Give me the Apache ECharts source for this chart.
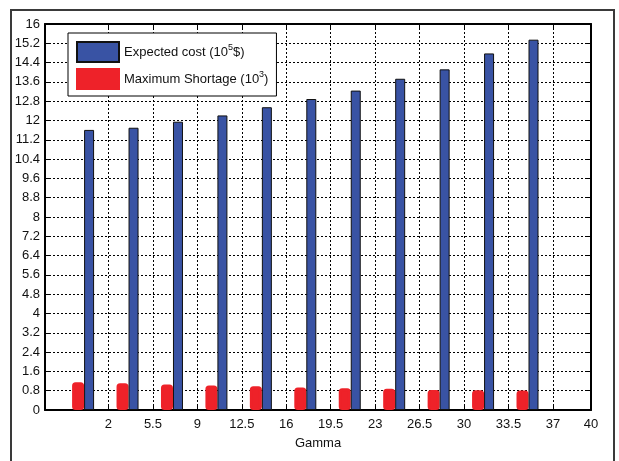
<!DOCTYPE html>
<html>
<head>
<meta charset="utf-8">
<script src="https://cdn.jsdelivr.net/npm/echarts@6/dist/echarts.min.js"></script>
<style>
  html, body { margin: 0; padding: 0; background: #fff; }
  #chart { width: 619px; height: 461px; }
</style>
</head>
<body>
<div id="chart"></div>
<script>
// Gamma positions of the bar groups and the labelled ticks
const gamma = [0, 3.5, 7, 10.5, 14, 17.5, 21, 24.5, 28, 31.5, 35];
const xTicks = [2, 5.5, 9, 12.5, 16, 19.5, 23, 26.5, 30, 33.5, 37, 40];

// Series values
const expectedCost = [11.61, 11.70, 11.95, 12.21, 12.55, 12.89, 13.24, 13.73, 14.12, 14.78, 15.35];
const maxShortage = [1.15, 1.11, 1.06, 1.02, 0.98, 0.93, 0.90, 0.88, 0.83, 0.82, 0.81];

const FONT = '"Liberation Sans", Arial, sans-serif';
const gridLine = { show: true, lineStyle: { color: '#000', width: 1, type: [2, 2] } };

const chart = echarts.init(document.getElementById('chart'));

const xBase = {
  type: 'value',
  min: -3,
  max: 40,
  axisLine: { show: true, onZero: false, lineStyle: { color: '#000', width: 2 } },
  axisTick: { show: true, inside: true, length: 5, customValues: xTicks, lineStyle: { color: '#000' } },
};

const yBase = {
  type: 'value',
  min: 0,
  max: 16,
  interval: 0.8,
  axisLine: { show: true, onZero: false, lineStyle: { color: '#000', width: 2 } },
  axisTick: { show: true, inside: true, length: 5, lineStyle: { color: '#000' } },
};

chart.setOption({
  animation: false,
  textStyle: { fontFamily: FONT },
  graphic: [{
    type: 'rect',
    z: -10,
    shape: { x: 11, y: 10, width: 603, height: 480 },
    style: { fill: 'none', stroke: '#3a3a3a', lineWidth: 2 },
  }],
  grid: { left: 45, right: 28, top: 24, bottom: 51, containLabel: false },
  legend: {
    orient: 'vertical',
    left: 68,
    top: 33,
    padding: [8, 8, 6, 8],
    itemGap: 5,
    itemWidth: 42,
    itemHeight: 20,
    borderColor: '#000',
    borderWidth: 1,
    backgroundColor: '#fff',
    data: [
      { name: 'cost', icon: 'rect' },
      { name: 'short', icon: 'rect' },
    ],
    formatter: (name) => name === 'cost'
      ? '{t|Expected cost (10}{s|5}{t|$)}'
      : '{t|Maximum Shortage (10}{s|3}{t|)}',
    textStyle: {
      rich: {
        t: { fontSize: 13, color: '#111', fontFamily: FONT },
        s: { fontSize: 9, color: '#111', fontFamily: FONT, padding: [0, 0, 9, 0] },
      },
    },
  },
  xAxis: [
    Object.assign({}, xBase, {
      position: 'bottom',
      name: 'Gamma',
      nameLocation: 'middle',
      nameGap: 27,
      nameTextStyle: { fontSize: 13, color: '#111', fontFamily: FONT },
      axisLabel: { show: true, customValues: xTicks, margin: 8, fontSize: 13, color: '#111', fontFamily: FONT },
      splitLine: gridLine,
    }),
    Object.assign({}, xBase, {
      position: 'top',
      axisLabel: { show: false },
      splitLine: { show: false },
    }),
  ],
  yAxis: [
    Object.assign({}, yBase, {
      position: 'left',
      axisLabel: { margin: 5, fontSize: 13, color: '#111', fontFamily: FONT },
      splitLine: gridLine,
    }),
    Object.assign({}, yBase, {
      position: 'right',
      axisLabel: { show: false },
      splitLine: { show: false },
    }),
  ],
  series: [
    {
      name: 'short',
      type: 'bar',
      barWidth: 12,
      barGap: '0%',
      data: gamma.map((g, i) => [g, maxShortage[i]]),
      itemStyle: { color: '#ee2229', borderColor: '#ee2229', borderWidth: 3, borderRadius: 2 },
    },
    {
      name: 'cost',
      type: 'bar',
      barWidth: 10,
      barGap: '0%',
      data: gamma.map((g, i) => [g, expectedCost[i]]),
      itemStyle: { color: '#3953a4', borderColor: '#111', borderWidth: 1 },
    },
  ],
});
</script>
</body>
</html>
